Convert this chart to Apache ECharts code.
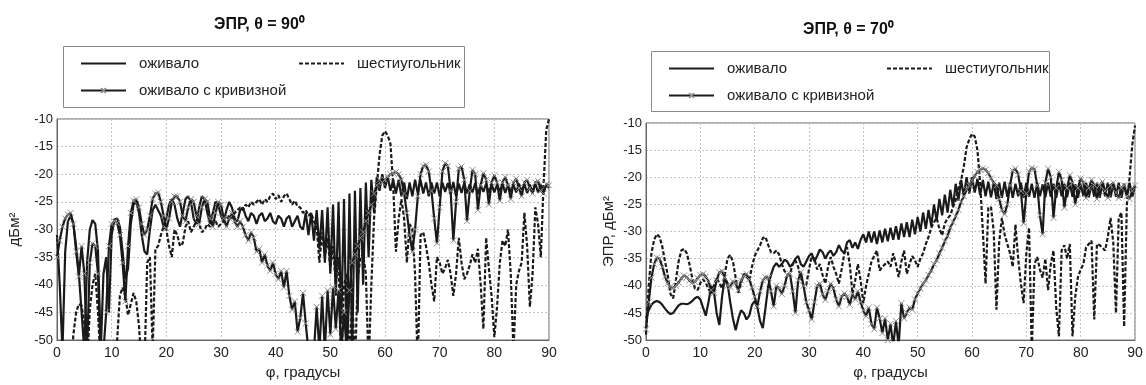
<!DOCTYPE html>
<html>
<head>
<meta charset="utf-8">
<script src="https://cdn.jsdelivr.net/npm/echarts@6/dist/echarts.min.js"></script>
<style>
  html, body { margin: 0; padding: 0; background: #fff; }
  #chart { width: 1146px; height: 385px; }
</style>
</head>
<body>
<div id="chart"></div>
<script>
// Azimuth sampling grid, degrees (0 … 90, step 0.5)
const PHI = Array.from({ length: 181 }, (_, i) => i / 2);

// Titles and labels
const TITLE_90 = 'ЭПР, θ = 90⁰';
const TITLE_70 = 'ЭПР, θ = 70⁰';
const X_NAME = 'φ, градусы';
const Y_NAME_90 = 'дБм²';
const Y_NAME_70 = 'ЭПР, дБм²';
const NAME_OGIVE = 'оживало';
const NAME_CURVED = 'оживало с кривизной';
const NAME_HEX = 'шестиугольник';

// θ = 90°, RCS in dBm², one value per PHI sample
const ogive90 = [
  -31, -40, -52, -34, -28.5, -27.5, -29, -33, -38, -45, -52, -36, -30, -28.3, -29, -34, -52, -38, -35, -45,
  -31, -28.2, -28, -29.5, -34, -39, -37, -29, -25.5, -25, -27, -31, -34, -34.5, -30, -26.5, -25.5, -26.5, -27.5, -29.5,
  -28, -25.5, -24.5, -25.5, -28, -29.5, -27, -24.5, -24, -25, -28, -29, -26, -24, -24.5, -27, -29, -27, -25, -25.5,
  -27.5, -28.5, -26.5, -25, -26, -28, -28.5, -26.5, -26, -27.5, -28.5, -27, -27.5, -29, -27.5, -27, -28.5, -28, -27, -28.5,
  -29, -27.5, -28, -29.5, -28, -27.5, -29.5, -28.5, -27.5, -29.5, -30, -27, -31, -27, -32, -26.5, -33.5, -26.5, -36, -26,
  -38, -25.5, -42, -25, -47, -24.5, -52, -23.5, -52, -23, -45, -22.5, -40, -21.5, -35, -21, -27, -20.5, -23, -20,
  -22.5, -20.5, -23, -21, -23.5, -21, -24, -21.5, -24.5, -21.5, -24, -21, -23.5, -21, -23.5, -21.5, -24, -21.5, -23.5, -21.5,
  -24, -21.5, -23.2, -21.6, -23.6, -21.4, -24, -21.7, -23.4, -21.5, -23.5, -21.8, -23.3, -21.6, -23.6, -21.9, -23.2, -21.7, -23.4, -21.8,
  -23.3, -21.9, -23.1, -21.7, -23.4, -21.8, -23.2, -21.9, -23.3, -21.7, -23.1, -21.8, -23.4, -21.9, -23.2, -21.7, -23.3, -21.9, -23, -22, -22.5
];
const curved90 = [
  -35, -32, -29.5, -28, -27.3, -27, -29, -34, -38.5, -33, -38, -52, -36, -32.5, -33, -38, -52, -52, -45, -33,
  -29, -28.5, -28.8, -31, -36, -43, -33, -27, -24.8, -24.5, -26, -29, -31, -30, -27.5, -24.5, -23.5, -23.3, -25, -27.5,
  -29.8, -28, -25, -24, -24, -25, -27.5, -28.5, -26, -24.5, -25, -27.5, -29, -26, -24.5, -25, -28, -29.5, -27, -25,
  -25.5, -28, -29.5, -28, -27, -28.5, -29.5, -28.5, -29.5, -31, -32, -30.5, -31.5, -34, -33.5, -36, -34.5, -36.5, -37.5, -36,
  -38, -39, -37.5, -40.5, -37.5, -42, -44.5, -43, -48.5, -46, -41.5, -47, -52, -52, -52, -44, -52, -42, -52, -41,
  -49, -40.5, -48, -41, -52, -45, -52, -41, -36, -34.5, -33, -31.5, -30.5, -28.5, -27, -25.5, -23.5, -22, -21, -21.5,
  -21, -20.5, -20, -19.8, -19.6, -20, -21, -23.5, -27, -31, -34, -30, -24, -20, -18.5, -18.3, -19.5, -23, -28, -32.5,
  -26, -19.5, -18, -18.5, -23, -32, -25, -19, -18.6, -21, -28.5, -23, -19.2, -20, -26.5, -22, -19.8, -21, -25.5, -21.5,
  -20.2, -21.5, -24.8, -21.5, -20.5, -22, -24.5, -21.5, -20.8, -22.5, -24, -21.5, -21, -22.5, -23.5, -21.5, -21.2, -23, -23.5, -21.8, -22
];
const hex90 = [
  -55, -55, -55, -55, -55, -55, -49, -45, -43.5, -43.8, -47, -55, -44.5, -40, -38, -45, -55, -55, -55, -55,
  -55, -55, -50, -42, -40.5, -42, -45.5, -43.5, -41.5, -43, -47.5, -55, -55, -36, -35, -52, -33.5, -33, -31, -29.5,
  -30, -33, -35, -30, -31, -33, -32.5, -29.5, -28.5, -30.5, -29.5, -28.5, -29, -30.5, -30, -29, -29.5, -28.5, -28.5, -29.5,
  -29, -28.5, -28, -27.5, -28, -27, -26.5, -26, -26.5, -25.5, -26, -25, -25.5, -25, -24.5, -25.5, -24.5, -25, -24, -23.5,
  -24.5, -23.8, -25, -24, -23.5, -24.5, -25.5, -24.8, -25.8, -26, -27, -26.5, -27.5, -27, -28.5, -29.5, -36, -30.5, -35, -31.5,
  -37, -33, -40, -35, -55, -40, -38, -55, -42, -55, -39, -35, -34.5, -38, -55, -40, -28, -22, -16.5, -13,
  -12.2, -13, -14.5, -22, -34, -28, -24.5, -28, -36, -29, -30, -38, -55, -31, -30.5, -33, -36, -40, -43, -35,
  -36, -38, -37, -35.5, -38, -42, -38, -31.5, -36, -39, -38, -36.5, -34.5, -36, -33.5, -40, -48, -31.5, -37, -42,
  -49.5, -44, -36, -32, -33, -30, -38, -52, -40, -37.5, -36, -27, -33, -44, -38, -26, -29, -35, -22, -12, -10
];

// θ = 70°, RCS in dBm²
const ogive70 = [
  -46, -44.5, -43.5, -43, -42.8, -43, -43.5, -44.2, -44.8, -45.2, -45, -44.3, -43.6, -43.3, -43.3, -43.4, -43.2, -42.8, -42.3, -42,
  -42.5, -44, -45.5, -43, -40, -41, -45, -47.2, -42, -38.5, -39.5, -43, -46, -48.2, -46, -44.5, -45, -46.2, -45.5, -43.5,
  -42.8, -44, -46.5, -47.8, -44, -40, -38, -36.5, -35.8, -36.5, -36, -35.2, -35.5, -36.5, -36, -35, -34.5, -36, -36.5, -35.5,
  -34.5, -34, -35.5, -34.5, -33.3, -33.8, -35, -34, -33.5, -34.5, -33.8, -32.5, -33.5, -34, -32, -31.6, -33, -32, -33.2, -31.5,
  -30.5, -32, -30, -32, -30, -32.3, -29.8, -32, -29.5, -31.8, -29.3, -31.5, -29, -31.5, -28.5, -31, -28.3, -31, -27.8, -30.5,
  -27.3, -30, -26.5, -29.5, -26, -29, -25, -28, -24, -27, -23.2, -26.5, -22.3, -25.5, -21.2, -24.3, -20.5, -23.5, -20, -23,
  -20, -22.8, -20.3, -23.3, -20.5, -23.5, -20.8, -23.7, -21, -24, -21, -23.8, -20.8, -23.6, -21, -23.8, -21.2, -23.5, -21, -23.8,
  -21, -23.6, -21.2, -23.8, -21, -23.5, -21.3, -23.7, -21, -23.6, -21.2, -23.8, -21, -23.5, -21.2, -23.7, -21, -23.6, -21.3, -23.8,
  -21.2, -23.5, -21, -23.7, -21.3, -23.6, -21, -23.8, -21.2, -23.5, -21, -23.7, -21.3, -23.6, -21, -23.8, -21.2, -23.5, -21, -23.6, -21.5
];
const curved70 = [
  -48, -43, -38.5, -36, -34.8, -35, -36.5, -38.3, -39.5, -40.2, -40.4, -40, -39.4, -38.6, -38.1, -38.4, -39, -39.4, -39.3, -38.6,
  -38, -37.8, -38.3, -39.2, -40.8, -41.3, -39, -37.5, -37.3, -38.5, -40, -40.2, -39.2, -39.5, -40.8, -39, -38.2, -37.8, -38.8, -40.3,
  -42, -43.8, -41, -39, -38.4, -38.5, -41, -43.8, -40, -40.5, -41.5, -40, -38, -37.8, -41, -45, -39, -37.5, -40, -43,
  -44.5, -46.2, -43, -40, -39.6, -41.5, -42.6, -41, -39.6, -40.5, -42.5, -43.8, -42, -41.4, -42, -43.5, -41.5, -42.5, -41, -43,
  -44.5, -45.6, -44, -47, -48, -44, -46, -48.7, -46, -50, -47, -51, -46.5, -51, -43.2, -46, -45, -44, -44.4, -42.5,
  -41.4, -40.5, -39.6, -39, -38, -37.2, -36, -35.3, -34, -33, -31.8, -30.8, -29.3, -28.3, -27.2, -26, -24.5, -23.5, -22.3, -21.5,
  -20.6, -19.8, -19, -18.6, -18.4, -18.6, -19.2, -20.2, -21, -21.5, -24, -26, -26.8, -25, -21.5, -18.8, -18.4, -19.5, -22.5, -28.5,
  -23, -19, -18.3, -18.5, -21.5, -27, -30.5, -21, -18.4, -20, -27.5, -22, -19, -20.5, -25.6, -22, -19.6, -21, -25, -22,
  -20.2, -21, -23.8, -22, -20.5, -21.5, -24, -21.5, -20.8, -22.5, -23.8, -21.5, -21, -22.8, -23.8, -22, -21.5, -23.5, -24, -22.5, -21.5
];
const hex70 = [
  -49, -40, -34, -31.5, -30.5, -31, -32.8, -35.5, -38, -41.5, -42.3, -39, -35.5, -33.5, -33.2, -34, -36, -38.5, -40.5, -40.8,
  -39.5, -38.8, -39.5, -40.5, -41.5, -40, -38.5, -39.5, -40.5, -38, -35, -34.3, -35.5, -38.5, -41.3, -39.5, -37.8, -38.2, -39, -36.5,
  -34.5, -33.5, -32.5, -31.2, -31, -32.5, -33.8, -34, -33.5, -34.2, -36, -37.3, -38, -37.8, -36, -35.3, -36.5, -38.5, -40, -39.8,
  -37, -34.5, -35, -37, -36, -38, -39.6, -36.5, -34.7, -36.5, -37.8, -39.6, -37, -34, -32.9, -36, -41.4, -39, -36, -39,
  -43.2, -40, -37.8, -35.5, -34.5, -33.5, -37.2, -36.5, -36, -35.5, -36.5, -34, -36, -38.4, -35.5, -33.5, -37.8, -36, -34.5, -35.3,
  -36.5, -35, -34, -32.3, -31, -29.3, -28.3, -27.5, -29.5, -30.7, -28.5, -27.6, -27, -25.5, -24.2, -22, -20.5, -18, -14.5, -13,
  -12, -12.5, -15, -21, -30, -39.6, -25.6, -25.5, -30, -44.4, -32, -27.5, -30.5, -32.3, -34, -36.5, -28.7, -35, -39.6, -43.2,
  -34, -29.3, -52, -36, -34.7, -37, -38.5, -35, -40.8, -36, -33.5, -44, -49.3, -33.5, -32.5, -35, -32.3, -49.3, -42, -38.4,
  -37, -36, -32.9, -32.3, -31.7, -46.2, -32.3, -32.5, -33, -33.5, -31, -27.5, -32, -45, -27.5, -26.5, -47.5, -25, -20, -14, -10.5
];

const FONT = '"Liberation Sans", Arial, Helvetica, sans-serif';
const INK = '#1a1a1a';
const CROSS = 'path://M0,0L10,10M10,0L0,10';

const toPairs = vals => PHI.map((p, i) => [p, vals[i]]);

function makeSeries(gridIndex, ogive, curved, hex) {
  return [
    {
      name: NAME_HEX, type: 'line', xAxisIndex: gridIndex, yAxisIndex: gridIndex,
      data: toPairs(hex), showSymbol: false, symbol: 'none', z: 2,
      lineStyle: { color: INK, width: 2.2, type: [4, 2] }, itemStyle: { color: INK }
    },
    {
      name: NAME_OGIVE, type: 'line', xAxisIndex: gridIndex, yAxisIndex: gridIndex,
      data: toPairs(ogive), showSymbol: false, symbol: 'none', z: 3,
      lineStyle: { color: INK, width: 2.2 }, itemStyle: { color: INK }
    },
    {
      name: NAME_CURVED, type: 'line', xAxisIndex: gridIndex, yAxisIndex: gridIndex,
      data: toPairs(curved), symbol: CROSS, symbolSize: 6, showSymbol: true, z: 4,
      lineStyle: { color: INK, width: 2.2 },
      itemStyle: { color: 'rgba(0,0,0,0)', borderColor: '#8f8f8f', borderWidth: 1 }
    }
  ];
}

function xAxis(gridIndex, gap) {
  return {
    type: 'value', gridIndex, min: 0, max: 90, interval: 10,
    name: X_NAME, nameLocation: 'middle', nameGap: gap,
    nameTextStyle: { fontFamily: FONT, fontSize: 15, color: '#222' },
    axisLine: { show: true, lineStyle: { color: '#666' } },
    axisTick: { show: false },
    axisLabel: { fontFamily: FONT, fontSize: 14, color: '#222', margin: 6 },
    splitLine: { show: true, lineStyle: { color: '#c4c4c4', type: [2, 2], width: 1 } }
  };
}

function yAxis(gridIndex, name, gap) {
  return {
    type: 'value', gridIndex, min: -50, max: -10, interval: 5,
    name, nameLocation: 'middle', nameGap: gap,
    nameTextStyle: { fontFamily: FONT, fontSize: 15, color: '#222' },
    axisLine: { show: true, lineStyle: { color: '#666' } },
    axisTick: { show: false },
    axisLabel: { fontFamily: FONT, fontSize: 13, color: '#222', margin: 4 },
    splitLine: { show: true, lineStyle: { color: '#c4c4c4', type: [2, 2], width: 1 } }
  };
}

// One legend entry; rowY is the vertical centre of the entry
function legendEntry(left, rowY, name, withMarker) {
  const h = withMarker ? 6 : 14;
  return {
    left, top: rowY - h / 2 - (withMarker ? 2 : 0), orient: 'vertical', padding: 0,
    itemWidth: 45, itemHeight: h, data: [name], selectedMode: false,
    itemStyle: withMarker ? {} : { opacity: 0 },
    textStyle: { fontFamily: FONT, fontSize: 15, color: '#222', padding: [0, 0, 0, 8] }
  };
}

const chart = echarts.init(document.getElementById('chart'), null, { renderer: 'canvas' });
chart.setOption({
  animation: false,
  backgroundColor: '#fff',
  title: [
    { text: TITLE_90, left: 214, top: 17, padding: 0,
      textStyle: { fontFamily: FONT, fontSize: 16, fontWeight: 'bold', color: '#111' } },
    { text: TITLE_70, left: 803, top: 22, padding: 0,
      textStyle: { fontFamily: FONT, fontSize: 16, fontWeight: 'bold', color: '#111' } }
  ],
  graphic: [
    { type: 'rect', z: 1, shape: { x: 63.5, y: 46.5, width: 401, height: 61 },
      style: { fill: '#fff', stroke: '#8a8a8a', lineWidth: 1 } },
    { type: 'rect', z: 1, shape: { x: 651.5, y: 51.5, width: 398, height: 60 },
      style: { fill: '#fff', stroke: '#8a8a8a', lineWidth: 1 } }
  ],
  legend: [
    legendEntry(80, 63, NAME_OGIVE, false),
    legendEntry(80, 88, NAME_CURVED, true),
    legendEntry(298, 63, NAME_HEX, false),
    legendEntry(668, 68, NAME_OGIVE, false),
    legendEntry(668, 93, NAME_CURVED, true),
    legendEntry(886, 68, NAME_HEX, false)
  ],
  grid: [
    { left: 57, right: 597, top: 119, bottom: 45, show: true, borderColor: '#666', borderWidth: 1 },
    { left: 646, right: 11, top: 123, bottom: 42, show: true, borderColor: '#666', borderWidth: 1 }
  ],
  xAxis: [xAxis(0, 22), xAxis(1, 24)],
  yAxis: [yAxis(0, Y_NAME_90, 35), yAxis(1, Y_NAME_70, 30)],
  series: [
    ...makeSeries(0, ogive90, curved90, hex90),
    ...makeSeries(1, ogive70, curved70, hex70)
  ]
});
</script>
</body>
</html>
